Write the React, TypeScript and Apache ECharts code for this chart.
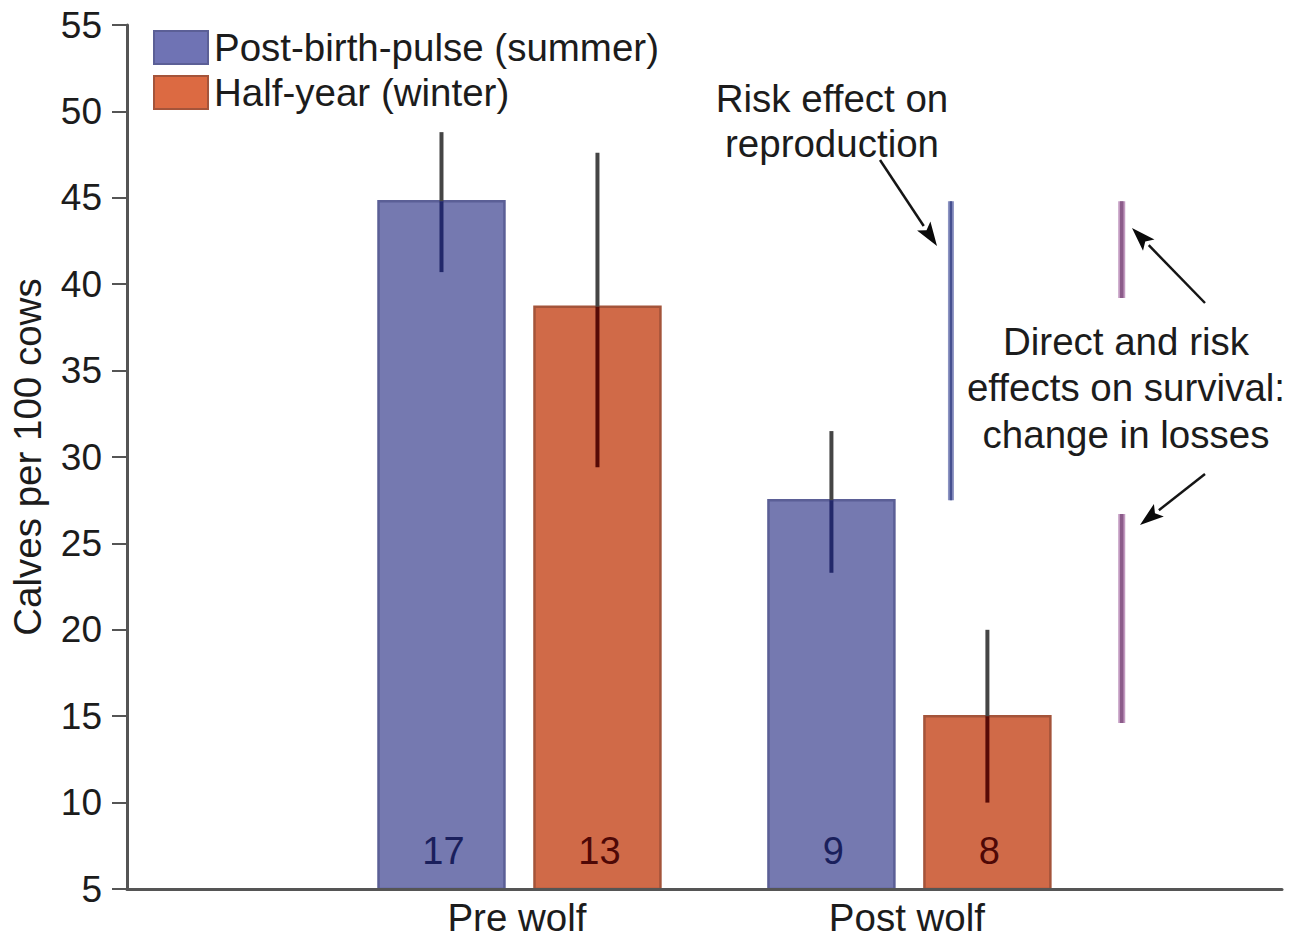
import React, { useEffect, useRef } from "react";
import * as echarts from "echarts";

// Calves per 100 cows, before and after wolf reintroduction
const periods = ["Pre wolf", "Post wolf"];

const summerMean = [44.8, 27.5];
const summerLow = [40.7, 23.3];
const summerHigh = [48.8, 31.5];
const summerN = [17, 9];

const winterMean = [38.7, 15.0];
const winterLow = [29.4, 10.0];
const winterHigh = [47.6, 20.0];
const winterN = [13, 8];

// Direct and risk effects on survival: change in losses (top, bottom)
const survivalChange = [
  [44.8, 39.2],
  [26.7, 14.6],
];

const Y_MIN = 5;
const Y_MAX = 55;
const Y_STEP = 5;
const X_MAX = 2.962;
const BAR_W = 0.323;
const GROUP_OFFSET = 0.2;
const CAT_SHIFT = 0.0065;
const RISK_X = 2.113;
const LOSS_X = 2.551;

const FONT = "'Liberation Sans', Arial, Helvetica, sans-serif";
const FS = 38.5;
const TICK_FS = 37;
const TXT = "#1c1c1c";

const SUMMER = { name: "Post-birth-pulse (summer)", fill: "#7579b0", stroke: "#5b5f96", errIn: "#22286a", label: "#1a1f5c" };
const WINTER = { name: "Half-year (winter)", fill: "#d06a48", stroke: "#a4543a", errIn: "#560a06", label: "#4e0806" };

function barRenderer(offset: number, st: typeof SUMMER) {
  return (params: any, api: any) => {
    const cat = api.value(0);
    const mean = api.value(1);
    const lo = api.value(2);
    const hi = api.value(3);
    const n = api.value(4);
    const x = cat + CAT_SHIFT + offset;
    const top = api.coord([x, mean]);
    const base = api.coord([x, Y_MIN]);
    const pHi = api.coord([x, hi]);
    const pLo = api.coord([x, lo]);
    const w = api.size([BAR_W, 0])[0];
    const cx = top[0];
    return {
      type: "group",
      children: [
        {
          type: "rect",
          shape: { x: cx - w / 2, y: top[1], width: w, height: base[1] - top[1] },
          style: { fill: st.fill, stroke: st.stroke, lineWidth: 2.5 },
        },
        {
          type: "line",
          shape: { x1: cx, y1: pHi[1], x2: cx, y2: top[1] },
          style: { stroke: "#454545", lineWidth: 4 },
        },
        {
          type: "line",
          shape: { x1: cx, y1: top[1], x2: cx, y2: pLo[1] },
          style: { stroke: st.errIn, lineWidth: 4 },
        },
        {
          type: "text",
          style: {
            x: cx + 2,
            y: base[1] - 38,
            text: String(n),
            align: "center",
            verticalAlign: "middle",
            fill: st.label,
            font: `${FS - 0.5}px ${FONT}`,
          },
        },
      ],
    };
  };
}

function arrow(x1: number, y1: number, x2: number, y2: number) {
  const dx = x2 - x1;
  const dy = y2 - y1;
  const len = Math.hypot(dx, dy);
  const ux = dx / len;
  const uy = dy / len;
  const headL = 24;
  const headW = 8;
  const bx = x2 - ux * headL;
  const by = y2 - uy * headL;
  return [
    {
      type: "line",
      shape: { x1, y1, x2: bx, y2: by },
      style: { stroke: "#151515", lineWidth: 2.5 },
    },
    {
      type: "polygon",
      shape: {
        points: [
          [x2, y2],
          [bx - uy * headW, by + ux * headW],
          [bx + ux * 5, by + uy * 5],
          [bx + uy * headW, by - ux * headW],
        ],
      },
      style: { fill: "#0a0a0a" },
    },
  ];
}

const legendBase = {
  orient: "vertical",
  left: 153,
  padding: 0,
  itemWidth: 54,
  itemHeight: 33,
  selectedMode: false,
  textStyle: { fontFamily: FONT, fontSize: FS, color: TXT, padding: [0, 0, 0, 1] },
};

export default function App() {
  const ref = useRef<HTMLDivElement>(null);

  useEffect(() => {
    if (!ref.current) return;
    const chart = echarts.init(ref.current, undefined, { renderer: "svg" });

    const summerData = periods.map((_, i) => [i + 1, summerMean[i], summerLow[i], summerHigh[i], summerN[i]]);
    const winterData = periods.map((_, i) => [i + 1, winterMean[i], winterLow[i], winterHigh[i], winterN[i]]);

    chart.setOption({
      animation: false,
      backgroundColor: "#ffffff",
      grid: { left: 127, right: 17, top: 25, bottom: 51, containLabel: false },
      legend: [
        {
          ...legendBase,
          top: 28,
          data: [{ name: SUMMER.name, icon: "rect", itemStyle: { color: "#6f73b4", borderColor: SUMMER.stroke, borderWidth: 2 } }],
        },
        {
          ...legendBase,
          top: 73,
          data: [{ name: WINTER.name, icon: "rect", itemStyle: { color: "#dc6a42", borderColor: WINTER.stroke, borderWidth: 2 } }],
        },
      ],
      xAxis: {
        type: "value",
        min: 0,
        max: X_MAX,
        interval: 1,
        z: 5,
        splitLine: { show: false },
        axisTick: { show: false },
        axisLine: { show: true, lineStyle: { color: "#555555", width: 3 } },
        axisLabel: {
          margin: 9,
          lineHeight: 38,
          fontFamily: FONT,
          fontSize: FS,
          color: TXT,
          formatter: (v: number) =>
            Number.isInteger(v) && v >= 1 && v <= periods.length ? periods[v - 1] : "",
        },
      },
      yAxis: {
        type: "value",
        min: Y_MIN,
        max: Y_MAX,
        interval: Y_STEP,
        z: 5,
        name: "Calves per 100 cows",
        nameLocation: "middle",
        nameGap: 80,
        nameTextStyle: { fontFamily: FONT, fontSize: FS, color: TXT },
        splitLine: { show: false },
        axisLine: { show: true, lineStyle: { color: "#555555", width: 3 } },
        axisTick: { show: true, length: 15, lineStyle: { color: "#555555", width: 2 } },
        axisLabel: { margin: 25, fontFamily: FONT, fontSize: TICK_FS, color: TXT },
      },
      series: [
        {
          type: "custom",
          name: SUMMER.name,
          itemStyle: { color: SUMMER.fill },
          data: summerData,
          renderItem: barRenderer(-GROUP_OFFSET, SUMMER),
          clip: false,
        },
        {
          type: "custom",
          name: WINTER.name,
          itemStyle: { color: WINTER.fill },
          data: winterData,
          renderItem: barRenderer(GROUP_OFFSET, WINTER),
          clip: false,
        },
        {
          type: "custom",
          name: "Risk effect on reproduction",
          data: [[summerMean[0], summerMean[1]]],
          clip: false,
          renderItem: (params: any, api: any) => {
            const a = api.coord([RISK_X, api.value(0)]);
            const b = api.coord([RISK_X, api.value(1)]);
            return {
              type: "group",
              children: [
                { type: "line", shape: { x1: a[0], y1: a[1], x2: b[0], y2: b[1] }, style: { stroke: "#8d94c2", lineWidth: 6 } },
                { type: "line", shape: { x1: a[0], y1: a[1], x2: b[0], y2: b[1] }, style: { stroke: "#465090", lineWidth: 2.5 } },
              ],
            };
          },
        },
        {
          type: "custom",
          name: "Change in losses",
          data: survivalChange,
          clip: false,
          renderItem: (params: any, api: any) => {
            const a = api.coord([LOSS_X, api.value(0)]);
            const b = api.coord([LOSS_X, api.value(1)]);
            return {
              type: "group",
              children: [
                { type: "line", shape: { x1: a[0], y1: a[1], x2: b[0], y2: b[1] }, style: { stroke: "#c29ac0", lineWidth: 7 } },
                { type: "line", shape: { x1: a[0], y1: a[1], x2: b[0], y2: b[1] }, style: { stroke: "#8c5c8a", lineWidth: 3.5 } },
              ],
            };
          },
        },
      ],
      graphic: [
        {
          type: "text",
          style: {
            x: 832,
            y: 76,
            text: "Risk effect on\nreproduction",
            align: "center",
            verticalAlign: "top",
            lineHeight: 45,
            fill: TXT,
            font: `${FS}px ${FONT}`,
          },
        },
        {
          type: "text",
          style: {
            x: 1126,
            y: 318,
            text: "Direct and risk\neffects on survival:\nchange in losses",
            align: "center",
            verticalAlign: "top",
            lineHeight: 46.5,
            fill: TXT,
            font: `${FS}px ${FONT}`,
          },
        },
        ...arrow(880, 160, 937, 246),
        ...arrow(1205, 303, 1132, 228),
        ...arrow(1205, 474, 1140, 525),
      ],
    });

    return () => chart.dispose();
  }, []);

  return (
    <div
      ref={ref}
      style={{ position: "absolute", left: 0, top: 0, width: 1299, height: 940, background: "#ffffff" }}
    />
  );
}
